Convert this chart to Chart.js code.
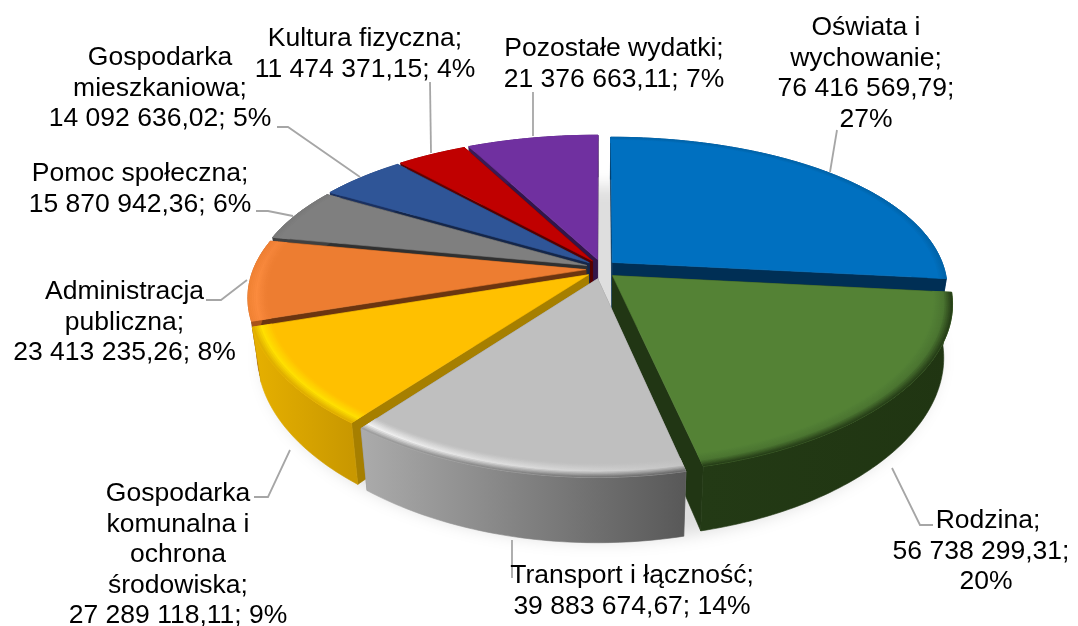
<!DOCTYPE html>
<html lang="pl"><head><meta charset="utf-8">
<style>html,body{margin:0;padding:0;background:#fff}#w{position:relative;width:1078px;height:626px}canvas{display:block}</style>
<script src="https://cdn.jsdelivr.net/npm/chart.js@4"></script>
</head><body><div id="w"><canvas id="c" width="1078" height="626"></canvas></div>
<script>
const categories=["Oświata i wychowanie","Rodzina","Transport i łączność","Gospodarka komunalna i ochrona środowiska","Administracja publiczna","Pomoc społeczna","Gospodarka mieszkaniowa","Kultura fizyczna","Pozostałe wydatki"];
const values=[76416569.79,56738299.31,39883674.67,27289118.11,23413235.26,15870942.36,14092636.02,11474371.15,21376663.11];
const labelLines=[
["Oświata i","wychowanie;","76 416 569,79;","27%"],
["Rodzina;","56 738 299,31;","20%"],
["Transport i łączność;","39 883 674,67; 14%"],
["Gospodarka","komunalna i","ochrona","środowiska;","27 289 118,11; 9%"],
["Administracja","publiczna;","23 413 235,26; 8%"],
["Pomoc społeczna;","15 870 942,36; 6%"],
["Gospodarka","mieszkaniowa;","14 092 636,02; 5%"],
["Kultura fizyczna;","11 474 371,15; 4%"],
["Pozostałe wydatki;","21 376 663,11; 7%"]];
const faceColors=["#0070C0","#548235","#BFBFBF","#FFC000","#ED7D31","#7F7F7F","#2F5597","#C00000","#7030A0"];
const cutColors=["#002F55","#213614","#8a8a8a","#A67F00","#6B3510","#303030","#14264A","#560000","#32154A"];
const wallColors=[["#002F55","#002F55"],["#233a15","#203512"],["#ababab","#585858"],["#e6b000","#c99800"],["#a8531a","#a8531a"],["#404040","#404040"],["#1a3060","#1a3060"],["#600000","#600000"],["#3a1a55","#3a1a55"]];
const rimLeft=[["#0070C0","#0070C0","#0062a8"],["#548235","#4a7430","#233a15"],["#BFBFBF","#f4f4f4","#959595"],["#FFC000","#FFE000","#dcaa00"],["#ED7D31","#FF8F40","#F08232"],["#7F7F7F","#7F7F7F","#787878"],["#2F5597","#2F5597","#2F5597"],["#C00000","#C00000","#C00000"],["#7030A0","#7030A0","#7030A0"]];
const rimRight=[["#0070C0","#0070C0","#0062a8"],["#548235","#4a7430","#233a15"],["#BFBFBF","#c4c4c4","#606060"],["#FFC000","#FFE000","#dcaa00"],["#ED7D31","#F5853A","#ED7D31"],["#7F7F7F","#7F7F7F","#787878"],["#2F5597","#2F5597","#2F5597"],["#C00000","#C00000","#C00000"],["#7030A0","#7030A0","#7030A0"]];
const drawOrder=[0,8,7,6,5,4,1,3,2];
const labelCenters=[[866,28],[981,521],[632,576],[178,494],[124.5,292],[140,174],[160,58],[365,39],[614,49]];
const labelLineShift={1:[7,0,5]};
const leaders=[[[837,130],[830,172]],[[892,468],[920,525],[933,525]],[[512,540],[512,578]],[[290,450],[268,497],[254,497]],[[247,280],[221,300],[206,300]],[[256,211],[268,211],[293,216]],[[277,127],[288,127],[360,177]],[[430,82],[431,153]],[[533,92],[533,136]]];
const lineGap=30.4, fontPx=26.5;
const A=1.235,B=0.57,K=0.205,KX=0.17,D=0.19,EXPLODE=0.046,EXPLODE_Y=1.4,RIM=0.055,TAPER=0.025;

const pie3d={id:'pie3d',
 beforeDatasetsDraw(chart){
  const ctx=chart.ctx, arcs=chart.getDatasetMeta(0).data;
  const R=arcs[0].outerRadius,cx=arcs[0].x,cy=arcs[0].y;
  const a=A*R,b=B*R,d=D*R;
  const proj=(i,r,th,z,ex=EXPLODE)=>{
    const m=(arcs[i].startAngle+arcs[i].endAngle)/2+Math.PI/2;
    const u=r*Math.sin(th)+ex*Math.sin(m), v=-r*Math.cos(th)-ex*EXPLODE_Y*Math.cos(m);
    return [cx+a*u/(1-KX*v)*(1-TAPER*z/d), cy+(b*v+z)/(1-K*v)];
  };
  const arcPts=(i,r,z,ex=EXPLODE)=>{
    const s=arcs[i].startAngle+Math.PI/2,e=arcs[i].endAngle+Math.PI/2,n=Math.max(8,Math.ceil((e-s)*60)),p=[];
    for(let j=0;j<=n;j++)p.push(proj(i,r,s+(e-s)*j/n,z,ex));
    return p;
  };
  const poly=(pts,fill)=>{ctx.beginPath();pts.forEach((p,j)=>j?ctx.lineTo(p[0],p[1]):ctx.moveTo(p[0],p[1]));ctx.closePath();ctx.fillStyle=fill;ctx.fill();ctx.strokeStyle=fill;ctx.lineWidth=.6;ctx.stroke();};
  const q=h=>[1,3,5].map(k=>parseInt(h.substr(k,2),16));
  const mix=(h1,h2,t)=>{const x=q(h1),y=q(h2);return 'rgb('+x.map((w,k)=>Math.round(w+(y[k]-w)*t)).join(',')+')';};
  const rimAt=(rc,tc)=>tc<.55?mix(rc[0],rc[1],tc/.55):mix(rc[1],rc[2],(tc-.55)/.45);
  ctx.save();
  ctx.save();
  ctx.filter='blur(8px)';
  let outline=[];
  arcs.forEach((_,i)=>{outline=outline.concat(arcPts(i,1.03,d+6,0));});
  ctx.beginPath();outline.forEach((p,j)=>j?ctx.lineTo(p[0],p[1]):ctx.moveTo(p[0],p[1]));ctx.closePath();
  ctx.fillStyle='rgba(0,0,0,.13)';ctx.fill();
  ctx.restore();
  for(const i of drawOrder){
    const top=arcPts(i,1,0),bot=arcPts(i,1,d);
    const c0=proj(i,0,0,0),c1=proj(i,0,0,d);
    poly([c0,top[0],bot[0],c1],cutColors[i]);
    poly([c0,top[top.length-1],bot[bot.length-1],c1],cutColors[i]);
    const xs=top.map(p=>p[0]),x0=Math.min(...xs),x1=Math.max(...xs);
    const g=ctx.createLinearGradient(x0,0,x1,0);
    g.addColorStop(0,wallColors[i][0]);g.addColorStop(1,wallColors[i][1]);
    poly([...top,...bot.slice().reverse()],g);
    poly([c0,...top],faceColors[i]);
    const N=10;
    for(let j=0;j<N;j++){
      const t=j/N,t2=(j+1)/N,tc=(t+t2)/2;
      const pin=arcPts(i,1-RIM*(1-t),0),pout=arcPts(i,1-RIM*(1-t2),0);
      const rg=ctx.createLinearGradient(x0,0,x1,0);
      rg.addColorStop(0,rimAt(rimLeft[i],tc));rg.addColorStop(1,rimAt(rimRight[i],tc));
      poly([...pin,...pout.slice().reverse()],rg);
    }
  }
  ctx.restore();
  return false;
 },
 afterDraw(chart){
  const ctx=chart.ctx;
  ctx.save();
  ctx.strokeStyle='#A6A6A6';ctx.lineWidth=1.8;
  leaders.forEach(l=>{ctx.beginPath();l.forEach((p,j)=>j?ctx.lineTo(p[0],p[1]):ctx.moveTo(p[0],p[1]));ctx.stroke();});
  ctx.fillStyle='#000';ctx.font=fontPx+'px "Liberation Sans", Arial, sans-serif';ctx.textAlign='center';ctx.textBaseline='middle';
  labelLines.forEach((ls,i)=>ls.forEach((t,j)=>ctx.fillText(t,labelCenters[i][0]+((labelLineShift[i]||[])[j]||0),labelCenters[i][1]+j*lineGap)));
  ctx.restore();
 }
};
new Chart(document.getElementById('c'),{
 type:'pie',
 data:{labels:categories,datasets:[{data:values,backgroundColor:faceColors,borderWidth:0}]},
 options:{responsive:false,animation:false,events:[],rotation:0,
  layout:{padding:{left:124,right:0,top:0,bottom:88}},
  plugins:{legend:{display:false},tooltip:{enabled:false},title:{display:false}}},
 plugins:[pie3d]
});
</script></body></html>
